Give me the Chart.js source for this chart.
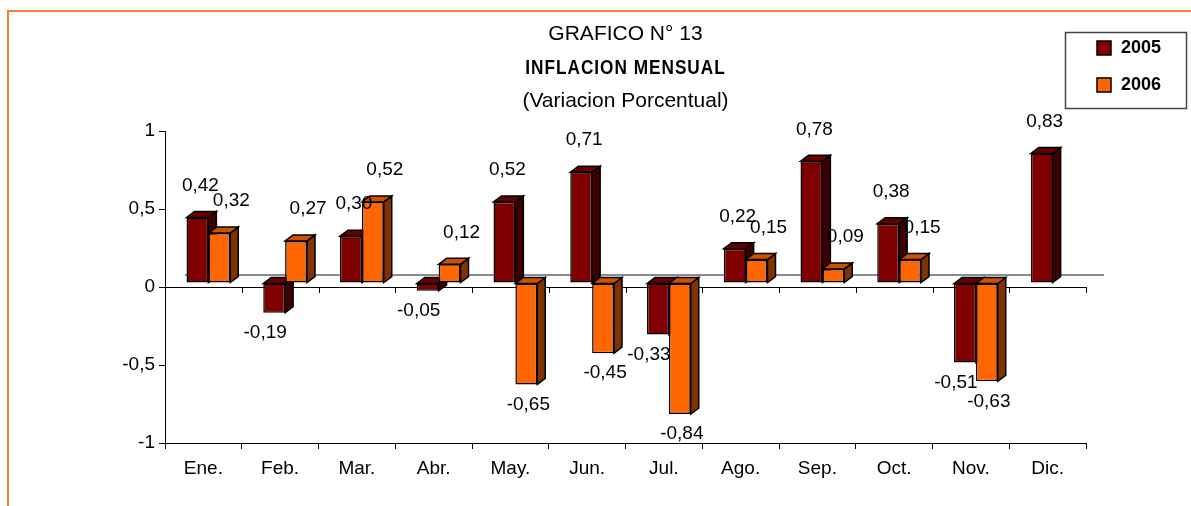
<!DOCTYPE html>
<html>
<head>
<meta charset="utf-8">
<script src="https://cdn.jsdelivr.net/npm/chart.js@4.4.1/dist/chart.umd.min.js"></script>
<style>
  body { margin: 0; background: #fff; }
  #wrap { width: 1191px; height: 506px; position: relative; }
</style>
</head>
<body>
<div id="wrap"><canvas id="grafico" width="1191" height="506"></canvas></div>
<script>
const meses = ["Ene.", "Feb.", "Mar.", "Abr.", "May.", "Jun.", "Jul.", "Ago.", "Sep.", "Oct.", "Nov.", "Dic."];
const serie2005 = [0.42, -0.19, 0.30, -0.05, 0.52, 0.71, -0.33, 0.22, 0.78, 0.38, -0.51, 0.83];
const serie2006 = [0.32, 0.27, 0.52, 0.12, -0.65, -0.45, -0.84, 0.15, 0.09, 0.15, -0.63, null];
const etiquetasY = [-1, -0.5, 0, 0.5, 1];
const titulos = ["GRAFICO N° 13", "INFLACION MENSUAL", "(Variacion Porcentual)"];

const FUENTE = "'Liberation Sans', Arial, sans-serif";
// estilo por serie (colores de caras y corrimiento de etiquetas)
const estilos = [
  { frente: "#800000", tapa: "#660000", lado: "#3d0000", dxPos: 3, dxNeg: -9 },
  { frente: "#ff6600", tapa: "#cc5200", lado: "#803300", dxPos: 12, dxNeg: 2 }
];
// profundidad del efecto 3D
const DX = 8, DY = -6, MOV_X = 5, MOV_Y = -4;

const coma = v => v.toFixed(2).replace(".", ",");

const barras3d = {
  id: "barras3d",
  beforeDatasetsDraw(chart) {
    const { ctx, chartArea, scales } = chart;
    const y0 = scales.y.getPixelForValue(0);
    const paso = scales.x.getPixelForValue(1) - scales.x.getPixelForValue(0);

    ctx.save();
    // linea del fondo
    ctx.strokeStyle = "#8c8c8c";
    ctx.lineWidth = 2;
    ctx.beginPath();
    ctx.moveTo(chartArea.left + 20, y0 - 12);
    ctx.lineTo(chartArea.right + 18, y0 - 12);
    ctx.stroke();

    // marcas sobre la linea cero
    ctx.strokeStyle = "#000";
    ctx.lineWidth = 1;
    for (let i = 0; i <= meses.length; i++) {
      const x = Math.round(scales.x.getPixelForValue(i) - paso / 2) + 0.5;
      ctx.beginPath();
      ctx.moveTo(x, y0);
      ctx.lineTo(x, y0 + 6);
      ctx.stroke();
    }

    ctx.translate(MOV_X, MOV_Y);
    ctx.lineWidth = 1.5;
    ctx.strokeStyle = "#000";
    ctx.lineJoin = "miter";
    meses.forEach((m, i) => {
      chart.data.datasets.forEach((ds, d) => {
        if (ds.data[i] == null) return;
        const bar = chart.getDatasetMeta(d).data[i];
        const { x, y, base, width } = bar.getProps(["x", "y", "base", "width"], true);
        const izq = x - width / 2, der = x + width / 2;
        const arriba = Math.min(y, base), abajo = Math.max(y, base);
        const c = estilos[d];

        ctx.fillStyle = c.lado;
        ctx.beginPath();
        ctx.moveTo(der, arriba);
        ctx.lineTo(der + DX, arriba + DY);
        ctx.lineTo(der + DX, abajo + DY);
        ctx.lineTo(der, abajo);
        ctx.closePath();
        ctx.fill();
        ctx.stroke();

        ctx.fillStyle = c.tapa;
        ctx.beginPath();
        ctx.moveTo(izq, arriba);
        ctx.lineTo(izq + DX, arriba + DY);
        ctx.lineTo(der + DX, arriba + DY);
        ctx.lineTo(der, arriba);
        ctx.closePath();
        ctx.fill();
        ctx.stroke();

        bar.draw(ctx);
      });
    });
    ctx.restore();
    return false;
  },
  afterDraw(chart) {
    const { ctx, chartArea } = chart;
    ctx.save();

    // marco naranja
    ctx.strokeStyle = "#f7802f";
    ctx.lineWidth = 2;
    ctx.beginPath();
    ctx.moveTo(chart.width, 11);
    ctx.lineTo(8, 11);
    ctx.lineTo(8, chart.height);
    ctx.stroke();

    // titulos
    const cx = (chartArea.left + chartArea.right) / 2;
    ctx.fillStyle = "#000";
    ctx.textAlign = "center";
    ctx.textBaseline = "middle";
    ctx.font = "21px " + FUENTE;
    ctx.fillText(titulos[0], cx, 34);
    ctx.save();
    ctx.translate(cx, 68);
    ctx.scale(0.82, 1);
    ctx.font = "bold 21px " + FUENTE;
    ctx.letterSpacing = "1.2px";
    ctx.fillText(titulos[1], 0, 0);
    ctx.restore();
    ctx.font = "21px " + FUENTE;
    ctx.fillText(titulos[2], cx, 101);

    // etiquetas de valores
    ctx.font = "19px " + FUENTE;
    ctx.translate(MOV_X, MOV_Y);
    chart.data.datasets.forEach((ds, d) => {
      chart.getDatasetMeta(d).data.forEach((bar, i) => {
        const v = ds.data[i];
        if (v == null) return;
        const { x, y } = bar.getProps(["x", "y"], true);
        if (v >= 0) ctx.fillText(coma(v), x + estilos[d].dxPos, y - 32);
        else ctx.fillText(coma(v), x + estilos[d].dxNeg, y + 20);
      });
    });
    ctx.translate(-MOV_X, -MOV_Y);

    // leyenda
    ctx.strokeStyle = "#444";
    ctx.lineWidth = 1.5;
    ctx.strokeRect(1065.5, 32.5, 121, 76);
    ctx.font = "bold 18px " + FUENTE;
    ctx.textAlign = "left";
    chart.data.datasets.forEach((ds, d) => {
      const yy = 48 + d * 37;
      ctx.fillStyle = estilos[d].frente;
      ctx.fillRect(1097, yy - 7, 14, 14);
      ctx.strokeStyle = "#000";
      ctx.lineWidth = 1.5;
      ctx.strokeRect(1097, yy - 7, 14, 14);
      ctx.fillStyle = "#000";
      ctx.fillText(ds.label, 1121, yy);
    });
    ctx.restore();
  }
};

new Chart(document.getElementById("grafico"), {
  type: "bar",
  data: {
    labels: meses,
    datasets: [
      { label: "2005", data: serie2005, backgroundColor: estilos[0].frente },
      { label: "2006", data: serie2006, backgroundColor: estilos[1].frente }
    ]
  },
  options: {
    responsive: false,
    animation: false,
    layout: { padding: { top: 131, right: 105, bottom: 0, left: 0 } },
    datasets: {
      bar: {
        borderColor: "#000",
        borderWidth: 1.5,
        borderSkipped: false,
        categoryPercentage: 0.57,
        barPercentage: 1
      }
    },
    plugins: {
      legend: { display: false },
      title: { display: false },
      tooltip: { enabled: false }
    },
    scales: {
      x: {
        afterFit: s => { s.height = 63; },
        grid: {
          offset: true,
          drawOnChartArea: false,
          tickLength: 6,
          tickColor: "#000"
        },
        border: { color: "#000", width: 1 },
        ticks: { color: "#000", font: { family: FUENTE, size: 19 }, padding: 8 }
      },
      y: {
        min: -1,
        max: 1,
        afterFit: s => { s.width = 165; },
        afterBuildTicks: s => { s.ticks = etiquetasY.map(v => ({ value: v })); },
        grid: {
          color: c => (c.tick && c.tick.value === 0 ? "#000" : "rgba(0,0,0,0)"),
          tickColor: "#000",
          tickLength: 6
        },
        border: { color: "#000", width: 1 },
        ticks: {
          color: "#000",
          font: { family: FUENTE, size: 19 },
          padding: 4,
          callback: v => String(v).replace(".", ",")
        }
      }
    }
  },
  plugins: [barras3d]
});
</script>
</body>
</html>
